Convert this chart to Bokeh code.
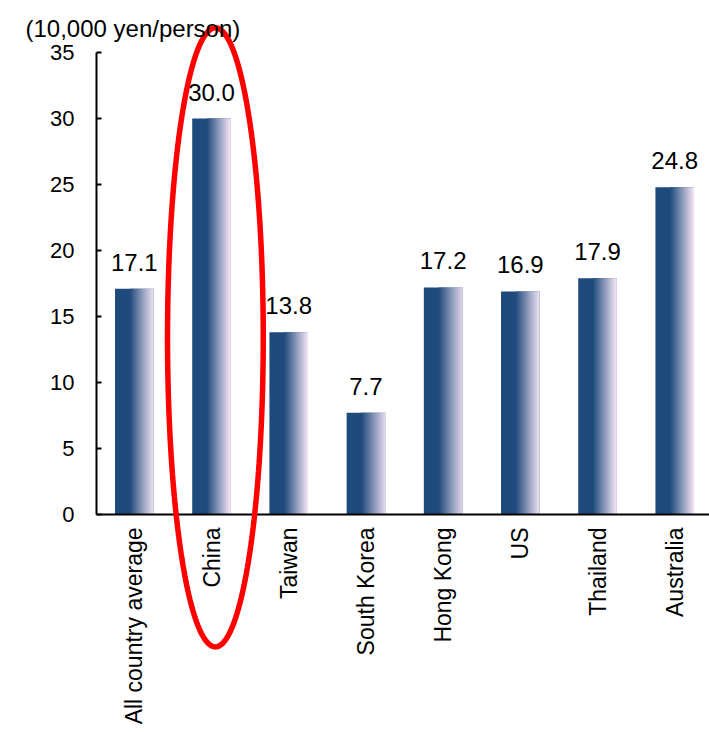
import numpy as np
from bokeh.plotting import figure
from bokeh.models import (ColumnDataSource, LabelSet, Label, FixedTicker, PolyAnnotation, Range1d)
from bokeh.core.properties import value
from bokeh.embed import file_html
from bokeh.resources import INLINE

# ---- data ----
categories = ["All country average", "China", "Taiwan", "South Korea",
              "Hong Kong", "US", "Thailand", "Australia"]
values = [17.1, 30.0, 13.8, 7.7, 17.2, 16.9, 17.9, 24.8]
value_labels = ["17.1", "30.0", "13.8", "7.7", "17.2", "16.9", "17.9", "24.8"]
y_ticks = [0, 5, 10, 15, 20, 25, 30, 35]
unit_label = "(10,000 yen/person)"
highlight = "China"

FONT = "Liberation Sans"
DARK = np.array([31, 74, 124])
LIGHT = np.array([251, 234, 249])
BW = 0.5

W, H = 709, 734
PX_X = 77.2      # pixels per category
PX_Y = 13.2      # pixels per unit
AX_LEFT = -0.49  # category coordinate where y axis sits
X0_PX, Y0_PX = 96, 514   # pixel location of axes origin
Y_TOP = 35

x_start = AX_LEFT - X0_PX / PX_X
x_end = AX_LEFT + (W - X0_PX) / PX_X
y_start = -(H - Y0_PX) / PX_Y
y_end = Y0_PX / PX_Y

p = figure(width=W, height=H, output_backend="svg", toolbar_location=None,
           x_range=Range1d(x_start, x_end), y_range=Range1d(y_start, y_end),
           min_border_left=0, min_border_right=0, min_border_top=0,
           min_border_bottom=0)
p.outline_line_color = None
p.xgrid.visible = False
p.ygrid.visible = False
p.background_fill_color = "white"
p.border_fill_color = "white"

xs = np.arange(len(categories), dtype=float)

# solid dark base of each bar
p.vbar(x=xs, top=values, width=BW, bottom=0, fill_color="#%02x%02x%02x" % tuple(DARK),
       line_color=None)

# gradient on the right part of each bar
N = 24
solid_frac = 0.38
lefts, rights, tops, colors = [], [], [], []
for i, v in enumerate(values):
    x0 = xs[i] - BW / 2 + solid_frac * BW
    span = BW * (1 - solid_frac)
    for k in range(N):
        t = (k + 0.5) / N
        c = DARK + (LIGHT - DARK) * t
        l = x0 + span * k / N
        r = x0 + span * (k + 1) / N
        lefts.append(l)
        rights.append(min(r + span / N * 0.3, xs[i] + BW / 2))
        tops.append(v)
        colors.append("#%02x%02x%02x" % tuple(int(round(q)) for q in c))
p.quad(left=lefts, right=rights, bottom=0, top=tops, fill_color=colors, line_color=None)

# value labels
src = ColumnDataSource(dict(x=xs, y=values, t=value_labels))
p.add_layout(LabelSet(x="x", y="y", text="t", source=src, text_align="center",
                      text_baseline="alphabetic", y_offset=18,
                      text_font=value(FONT), text_font_size=value("24px"),
                      text_color="black"))

# highlight ellipse around China
ci = categories.index(highlight)
th = np.linspace(0, 2 * np.pi, 240)
ex = ci + 0.05 + 0.62 * np.cos(th)
ey = 13.42 + 23.45 * np.sin(th)
p.add_layout(PolyAnnotation(xs=list(ex), ys=list(ey), xs_units="data", ys_units="data",
                            fill_alpha=0, line_color="#FF0000", line_alpha=1.0,
                            line_width=5.5))

# axes (fixed at the origin, inside the full-canvas frame)
xa = p.xaxis[0]
xa.fixed_location = 0
xa.bounds = (AX_LEFT, x_end)
xa.ticker = FixedTicker(ticks=list(xs))
xa.major_label_overrides = {i: c for i, c in enumerate(categories)}
xa.major_label_orientation = np.pi / 2
xa.major_tick_in = 0
xa.major_tick_out = 0
xa.minor_tick_in = 0
xa.minor_tick_out = 0
xa.axis_line_width = 2
xa.axis_line_color = "black"
xa.major_label_text_font = FONT
xa.major_label_text_font_size = "23px"
xa.major_label_text_color = "black"
xa.major_label_standoff = 13

ya = p.yaxis[0]
ya.fixed_location = AX_LEFT
ya.bounds = (0, Y_TOP)
ya.ticker = FixedTicker(ticks=y_ticks)
ya.major_tick_in = 5
ya.major_tick_out = 0
ya.minor_tick_in = 0
ya.minor_tick_out = 0
ya.axis_line_width = 2
ya.axis_line_color = "black"
ya.major_tick_line_width = 2
ya.major_label_text_font = FONT
ya.major_label_text_font_size = "22px"
ya.major_label_text_color = "black"
ya.major_label_standoff = 22

# unit label at top-left
p.add_layout(Label(x=AX_LEFT, y=Y_TOP, x_offset=-71, y_offset=24, text=unit_label,
                   text_font=FONT, text_font_size="24px", text_color="black",
                   text_baseline="alphabetic", text_align="left"))

open("out.html", "w").write(file_html(p, INLINE))
